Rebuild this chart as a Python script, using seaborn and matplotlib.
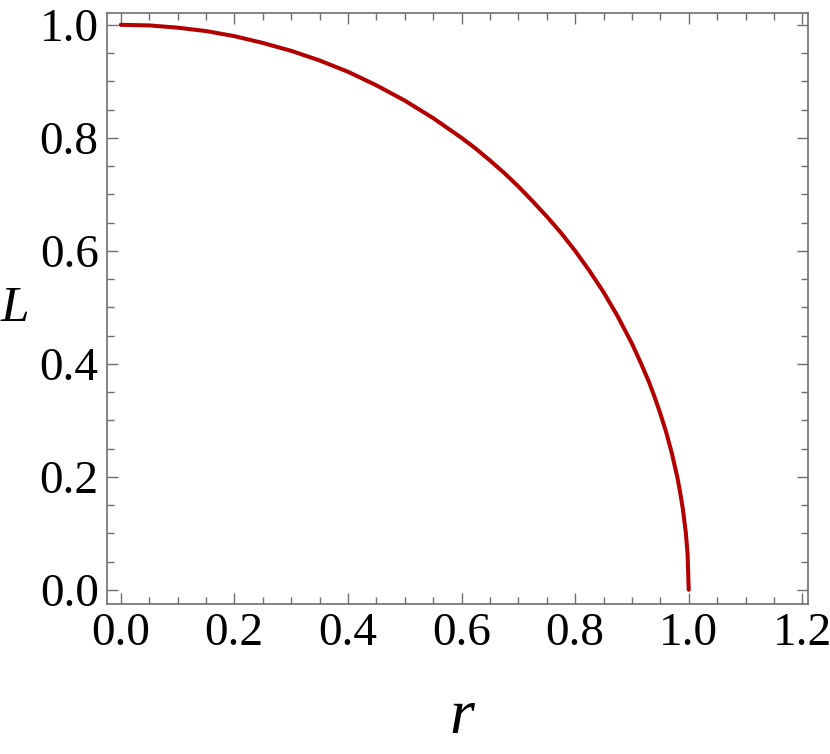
import numpy as np
import pandas as pd
import seaborn as sns
import matplotlib
matplotlib.use('Agg')
import matplotlib.pyplot as plt
from matplotlib.ticker import MultipleLocator

# values
r_vals = [0.0, 0.05, 0.1, 0.15, 0.2, 0.25, 0.3, 0.35, 0.4, 0.45, 0.5, 0.55, 0.6,
          0.625, 0.65, 0.675, 0.7, 0.725, 0.75, 0.775, 0.8, 0.825, 0.85, 0.875,
          0.9, 0.915, 0.93, 0.94, 0.95, 0.96, 0.97, 0.98, 0.985, 0.99, 0.995,
          0.998, 1.0]
L_vals = [1.0, 0.999, 0.995, 0.989, 0.98, 0.968, 0.954, 0.937, 0.917, 0.893, 0.866,
          0.835, 0.8, 0.781, 0.76, 0.738, 0.714, 0.688, 0.661, 0.632, 0.6, 0.565,
          0.527, 0.484, 0.436, 0.403, 0.368, 0.341, 0.312, 0.28, 0.243, 0.199,
          0.172, 0.141, 0.1, 0.063, 0.0]
x_ticks = [0.0, 0.2, 0.4, 0.6, 0.8, 1.0, 1.2]
y_ticks = [0.0, 0.2, 0.4, 0.6, 0.8, 1.0]

df = pd.DataFrame({'r': r_vals, 'L': L_vals})

sns.set_style('ticks')
plt.rcParams['font.family'] = ['Liberation Serif', 'DejaVu Serif']
plt.rcParams['text.color'] = 'black'
plt.rcParams['xtick.labelcolor'] = 'black'
plt.rcParams['ytick.labelcolor'] = 'black'

fig = plt.figure(figsize=(8.3, 7.54), dpi=100)
ax = fig.add_axes([0.129, 0.199, 0.8445, 0.7838])

sns.lineplot(data=df, x='r', y='L', ax=ax, color='#b20000', linewidth=2.9,
             sort=False, estimator=None)

ax.set_xlim(-0.024, 1.21)
ax.set_ylim(-0.025, 1.021)
ax.set_xticks(x_ticks)
ax.set_yticks(y_ticks)
ax.set_xticklabels(['%.1f' % v for v in x_ticks])
ax.set_yticklabels(['%.1f' % v for v in y_ticks])
ax.xaxis.set_minor_locator(MultipleLocator(0.05))
ax.yaxis.set_minor_locator(MultipleLocator(0.05))

frame_col = '#6e6e6e'
for sp in ax.spines.values():
    sp.set_visible(True)
    sp.set_color(frame_col)
    sp.set_linewidth(1.2)
ax.tick_params(which='both', direction='in', top=True, right=True, color=frame_col,
               width=1.0)
ax.tick_params(which='major', length=8, labelsize=34, pad=6, labelcolor='black')
ax.tick_params(which='minor', length=5)
ax.set_xlabel('')
ax.set_ylabel('')

fig.text(15 / 830, 1 - 309 / 754, 'L', fontsize=37, style='italic', color='black',
         ha='center', va='center')
fig.text(462 / 830, 1 - 718 / 754, 'r', fontsize=46, style='italic', color='black',
         ha='center', va='center')

fig.savefig('out.png', dpi=100)
